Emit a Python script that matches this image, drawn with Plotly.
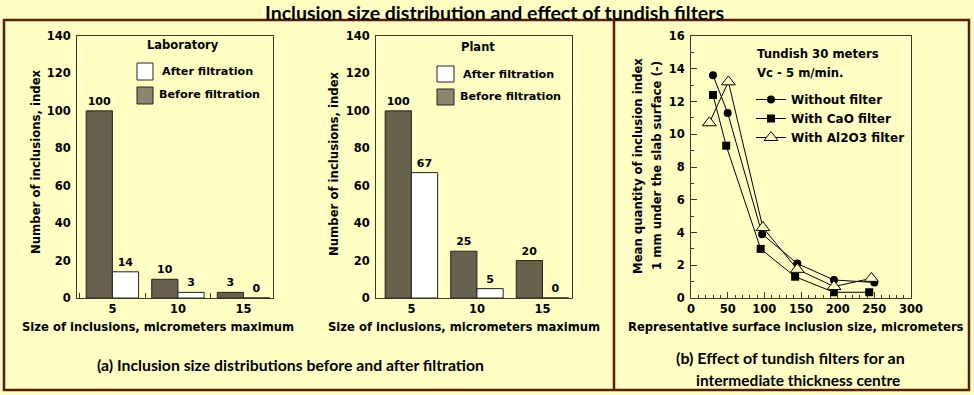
import plotly.graph_objects as go

# ---------------- data ----------------
sizes = ["5", "10", "15"]
lab_before = [100, 10, 3]
lab_after = [14, 3, 0]
plant_before = [100, 25, 20]
plant_after = [67, 5, 0]

x_without = [30, 50, 97, 145, 195, 250]
y_without = [13.6, 11.3, 3.9, 2.1, 1.1, 0.95]
x_cao = [30, 48, 95, 142, 195, 243]
y_cao = [12.4, 9.3, 3.0, 1.3, 0.35, 0.35]
x_al2o3 = [25, 51, 98, 145, 195, 246]
y_al2o3 = [10.7, 13.2, 4.3, 1.75, 0.7, 1.2]

# ---------------- style ----------------
W, H = 974, 395
BG = "#FFFFC4"
BAR_DARK = "#66624D"
FRAME = "#5A1C0C"
AX = "#3A3A2A"
FONT = "DejaVu Sans"
CAPFONT = "Lato"

def px(x):
    return x / W

def py(y):
    return 1 - y / H

fig = go.Figure()

valfont = dict(family=FONT, size=11, color="black", weight="bold")
for i, (before, after) in enumerate([(lab_before, lab_after), (plant_before, plant_after)]):
    xa = "x" if i == 0 else "x2"
    ya = "y" if i == 0 else "y2"
    fig.add_trace(go.Bar(x=sizes, y=before, name="Before filtration", xaxis=xa, yaxis=ya,
                         marker=dict(color=BAR_DARK, line=dict(color="#222", width=1)),
                         text=[str(v) for v in before], textposition="outside",
                         textfont=valfont, cliponaxis=False, showlegend=False))
    fig.add_trace(go.Bar(x=sizes, y=after, name="After filtration", xaxis=xa, yaxis=ya,
                         marker=dict(color="white", line=dict(color="#222", width=1)),
                         text=[str(v) for v in after], textposition="outside",
                         textfont=valfont, cliponaxis=False, showlegend=False))

fig.add_trace(go.Scatter(x=x_without, y=y_without, name="Without filter", mode="lines+markers",
                         xaxis="x3", yaxis="y3", line=dict(color="black", width=1),
                         marker=dict(symbol="circle", size=8, color="black")))
fig.add_trace(go.Scatter(x=x_cao, y=y_cao, name="With CaO filter", mode="lines+markers",
                         xaxis="x3", yaxis="y3", line=dict(color="black", width=1),
                         marker=dict(symbol="square", size=8, color="black")))
fig.add_trace(go.Scatter(x=x_al2o3, y=y_al2o3, name="With Al2O3 filter", mode="lines+markers",
                         xaxis="x3", yaxis="y3", line=dict(color="black", width=1),
                         marker=dict(symbol="triangle-up", size=12, color=BG,
                                     line=dict(color="black", width=1))))

tickfont = dict(family=FONT, size=11.5, color="black", weight="bold")
ydom = [py(298), py(36)]

common_x = dict(showline=True, mirror=True, linecolor=AX, linewidth=1, showgrid=False,
                zeroline=False, tickfont=tickfont, automargin=False)
common_y = dict(showline=True, mirror=True, linecolor=AX, linewidth=1, showgrid=False,
                zeroline=False, tickfont=tickfont, ticklabelstandoff=3, automargin=False)

fig.update_layout(
    width=W, height=H, margin=dict(l=0, r=0, t=0, b=0, pad=0),
    paper_bgcolor=BG, plot_bgcolor=BG,
    barmode="group", bargap=0.2, bargroupgap=0,
    font=dict(family=FONT, color="black"),
    xaxis=dict(common_x, domain=[px(77), px(273)], type="category", range=[-0.54, 2.45],
               ticks="inside", tickson="boundaries", ticklen=5, tickcolor=AX, anchor="y"),
    yaxis=dict(common_y, domain=ydom, range=[0, 140], dtick=20, ticks="", anchor="x"),
    xaxis2=dict(common_x, domain=[px(376), px(572)], type="category", range=[-0.54, 2.45],
                ticks="", anchor="y2"),
    yaxis2=dict(common_y, domain=ydom, range=[0, 140], dtick=20, ticks="", anchor="x2"),
    xaxis3=dict(common_x, domain=[px(691), px(911)], range=[0, 300], dtick=50,
                ticks="inside", ticklen=6, tickcolor=AX, anchor="y3",
                minor=dict(dtick=10, ticks="inside", ticklen=3, tickcolor=AX)),
    yaxis3=dict(common_y, domain=ydom, range=[0, 16], dtick=2, anchor="x3",
                ticks="inside", ticklen=6, tickcolor=AX,
                minor=dict(dtick=1, ticks="inside", ticklen=3, tickcolor=AX)),
    legend=dict(x=px(751), y=py(85), xanchor="left", yanchor="top",
                bgcolor="rgba(0,0,0,0)", font=dict(family=FONT, size=12, weight="bold"),
                tracegroupgap=0, itemwidth=30),
)

ann = []
def text(x, y, s, size=11.5, xanchor="center", angle=0, family=FONT, yanchor="middle", pad=1):
    ann.append(dict(x=px(x), y=py(y), xref="paper", yref="paper", text=s, showarrow=False,
                    xanchor=xanchor, yanchor=yanchor, textangle=angle, borderpad=pad,
                    font=dict(family=family, size=size, color="black", weight="bold")))

text(494, 0, "Inclusion size distribution and effect of tundish filters", size=19.5,
     family=CAPFONT, yanchor="top", pad=0)
# axis titles
text(158, 327, "Size of inclusions, micrometers maximum", size=11.6)
text(464, 327, "Size of inclusions, micrometers maximum", size=11.6)
text(796, 327, "Representative surface inclusion size, micrometers", size=11.6)
text(36, 162, "Number of inclusions, index", size=11.7, angle=-90)
text(334, 164, "Number of inclusions, index", size=11.7, angle=-90)
text(638, 166, "Mean quantity of inclusion index", size=11.7, angle=-90)
text(657, 166, "1 mm under the slab surface (-)", size=11.7, angle=-90)
# captions
text(290, 364, "(a) Inclusion size distributions before and after filtration", size=15.8, family=CAPFONT)
text(790, 357, "(b) Effect of tundish filters for an", size=16, family=CAPFONT)
text(798, 380, "intermediate thickness centre", size=15.5, family=CAPFONT)
# in-plot labels
text(183, 45, "Laboratory", size=11.5)
text(478, 47, "Plant", size=11.5)
text(755, 54, "Tundish 30 meters", size=11.7, xanchor="left")
text(755, 73, "Vc - 5 m/min.", size=11.7, xanchor="left")
text(160, 72, "After filtration", size=11.2, xanchor="left")
text(157, 95, "Before filtration", size=11.2, xanchor="left")
text(461, 74, "After filtration", size=11.2, xanchor="left")
text(458, 97, "Before filtration", size=11.2, xanchor="left")
fig.update_layout(annotations=ann)

shapes = []
def rect(x0, y0, x1, y1, fill, color="#222", width=1):
    shapes.append(dict(type="rect", xref="paper", yref="paper", x0=px(x0), x1=px(x1),
                       y0=py(y1), y1=py(y0), fillcolor=fill, line=dict(color=color, width=width)))

rect(137, 63, 153, 80, "white")
rect(137, 87, 153, 104, "#8A8670")
rect(437, 66, 454, 82, "white")
rect(437, 89, 454, 105, "#8A8670")
rect(4, 20, 969, 390, "rgba(0,0,0,0)", color=FRAME, width=2.5)
shapes.append(dict(type="line", xref="paper", yref="paper", x0=px(614), x1=px(614),
                   y0=py(390), y1=py(20), line=dict(color=FRAME, width=2.5)))
fig.update_layout(shapes=shapes)

fig.write_html("out.html", config={"displayModeBar": False},
               post_script="document.body.style.margin='0px';document.body.style.overflow='hidden';")
